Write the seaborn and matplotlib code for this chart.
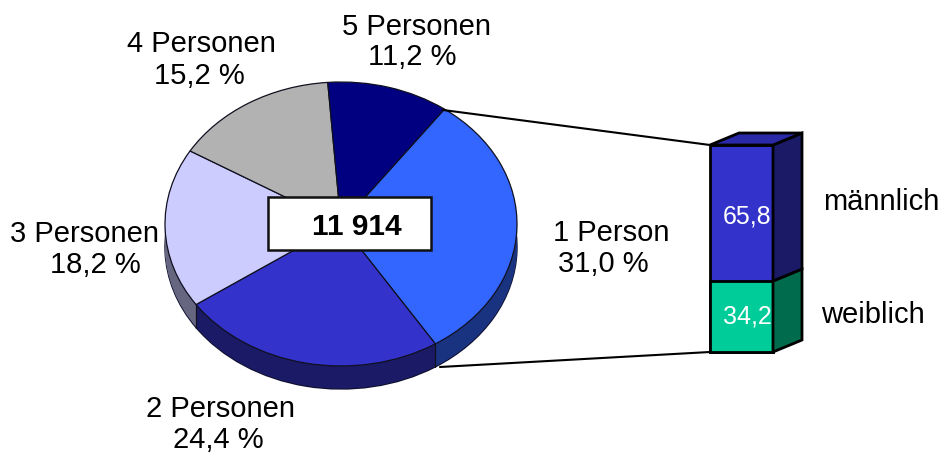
"""Household sizes pie with a stacked gender bar for the single person slice"""
import numpy as np
import pandas as pd
import matplotlib
matplotlib.use('Agg')
import matplotlib.pyplot as plt
from matplotlib.patches import Polygon, Rectangle
import seaborn as sns

# Data
pie_labels = ['1 Person', '2 Personen', '3 Personen', '4 Personen', '5 Personen']
pie_values = [31.0, 24.4, 18.2, 15.2, 11.2]
pie_texts = ['31,0 %', '24,4 %', '18,2 %', '15,2 %', '11,2 %']
total_text = '11 914'
gender_labels = ['männlich', 'weiblich']
gender_values = [65.8, 34.2]
gender_texts = ['65,8', '34,2']

# Colours
top_colors = ['#3366FF', '#3333CC', '#CCCCFF', '#B2B2B2', '#000080']
side_colors = ['#1A3380', '#1A1A66', '#666680', '#595959', '#000040']
male_colors = ('#3333CC', '#1A1A66', '#2A2AA8')
female_colors = ('#00CC99', '#006B4D')

W, H = 944, 455
sns.set_theme(style='white')
plt.rcParams['font.family'] = ['Liberation Sans', 'DejaVu Sans']

fig = plt.figure(figsize=(W / 100, H / 100), dpi=100)
fig.patch.set_facecolor('white')


def px_axes(x0, y0, x1, y1):
    """Axes placed by pixel box (y measured from the top)"""
    return fig.add_axes([x0 / W, 1 - y1 / H, (x1 - x0) / W, (y1 - y0) / H])


# Pie, drawn round then squashed by the axes to look tilted
cx, cy, rx, ry, depth = 341, 224, 176, 142, 23
ax_pie = px_axes(cx - rx * 1.05, cy - ry * 1.05, cx + rx * 1.05, cy + ry * 1.05 + depth)
d = depth / ry
start = 54
# Outline first so the layers hide its radial lines and only the outer arc stays
ax_pie.pie(pie_values, colors=side_colors, startangle=start, counterclock=False,
           center=(0, -d), wedgeprops={'linewidth': 1.0, 'edgecolor': '#101030'})
for off in np.linspace(d - 0.004, 0.01, 24):
    ax_pie.pie(pie_values, colors=side_colors, startangle=start, counterclock=False,
               center=(0, -off), wedgeprops={'linewidth': 0})
ax_pie.pie(pie_values, colors=top_colors, startangle=start, counterclock=False,
           wedgeprops={'linewidth': 0.9, 'edgecolor': '#101020'})

# Vertical edges where slices meet on the visible rim
angles = np.deg2rad(start - np.cumsum(pie_values) / 100 * 360)
for a in angles:
    if np.sin(a) < 0:
        ax_pie.plot([np.cos(a)] * 2, [np.sin(a), np.sin(a) - d], color='#101020', lw=0.9)
ax_pie.set_aspect('auto')
ax_pie.set_xlim(-1.05, 1.05)
ax_pie.set_ylim(-1.05 - d, 1.05)
ax_pie.axis('off')

# Gender bar, the front face is the axes itself
bar_x0, bar_x1, bar_top, bar_bottom = 710, 773, 145, 352
ax_bar = px_axes(bar_x0, bar_top, bar_x1, bar_bottom)
df = pd.DataFrame({'group': ['x'], 'male': [sum(gender_values)], 'female': [gender_values[1]]})
sns.barplot(data=df, x='group', y='male', color=male_colors[0], width=1, saturation=1,
            edgecolor='black', linewidth=2, ax=ax_bar, clip_on=False)
sns.barplot(data=df, x='group', y='female', color=female_colors[0], width=1, saturation=1,
            edgecolor='black', linewidth=2, ax=ax_bar, clip_on=False)
ax_bar.set_xlim(-0.5, 0.5)
ax_bar.set_ylim(0, sum(gender_values))
ax_bar.axis('off')

# Side and top faces of the bar
dx = 29 / (bar_x1 - bar_x0)
dy = 12 / (bar_bottom - bar_top) * sum(gender_values)
split = gender_values[1]
top = sum(gender_values)
faces = [
    ([(0.5, split), (0.5, top), (0.5 + dx, top + dy), (0.5 + dx, split + dy)], male_colors[1]),
    ([(0.5, 0), (0.5, split), (0.5 + dx, split + dy), (0.5 + dx, dy)], female_colors[1]),
    ([(-0.5, top), (0.5, top), (0.5 + dx, top + dy), (-0.5 + dx, top + dy)], male_colors[2]),
]
for pts, col in faces:
    ax_bar.add_patch(Polygon(pts, closed=True, facecolor=col, edgecolor='black',
                             linewidth=2, clip_on=False, joinstyle='miter'))
ax_bar.text(0.095, split + gender_values[0] / 2 - 1.5, gender_texts[0], color='white', fontsize=18,
            ha='center', va='center')
ax_bar.text(0.1, split / 2, gender_texts[1], color='white', fontsize=18,
            ha='center', va='center')

# Overlay in pixel coordinates for labels, connectors and the total box
ov = fig.add_axes([0, 0, 1, 1])
ov.set_xlim(0, W)
ov.set_ylim(H, 0)
ov.axis('off')
ov.patch.set_alpha(0)
ov.plot([443, 710], [110, 145], color='black', lw=1.5)
ov.plot([440, 710], [367, 352], color='black', lw=1.5)
ov.add_patch(Rectangle((268, 197), 163, 53, facecolor='white', edgecolor='#101010', linewidth=1.8))
ov.text(356.5, 227, total_text, fontsize=21.5, fontweight='bold', ha='center', va='center', color='black')

name_pos = [(611, 233), (221, 409), (84, 234), (201, 44), (416, 27)]
value_pos = [(603, 264), (218, 440), (95, 265), (199, 76), (412, 57)]
for name, val, p1, p2 in zip(pie_labels, pie_texts, name_pos, value_pos):
    ov.text(p1[0], p1[1], name, fontsize=21, ha='center', va='center', color='black')
    ov.text(p2[0], p2[1], val, fontsize=21, ha='center', va='center', color='black')
ov.text(881, 202, gender_labels[0], fontsize=21, ha='center', va='center', color='black')
ov.text(873, 315, gender_labels[1], fontsize=21, ha='center', va='center', color='black')

fig.savefig('out.png', dpi=100)
